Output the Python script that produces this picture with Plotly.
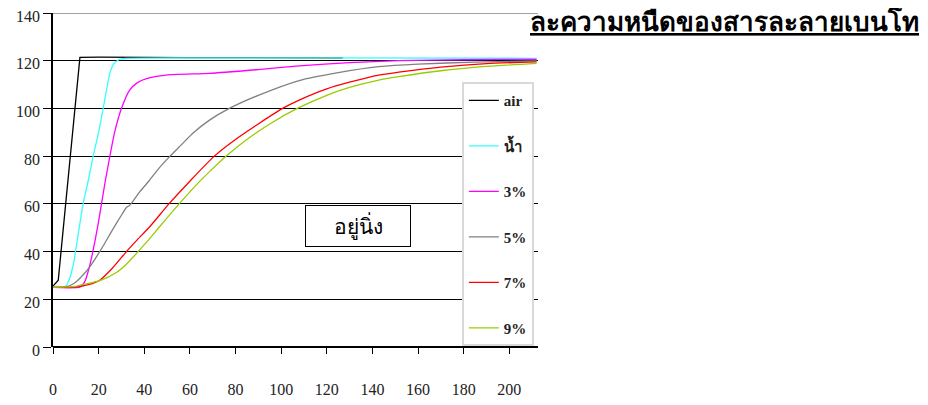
import plotly.graph_objects as go

# ---- data ----
air_x = [0, 1, 2.3, 11.8, 20, 60, 100, 127]
air_y = [25.5, 26.8, 28, 121.4, 121.5, 121.3, 121.2, 121.2]

water_x = [0, 4, 5.5, 7, 9, 11, 13.2, 15.5, 17.6, 20, 22, 23.5, 24.9, 26.5, 29, 32, 60, 120, 212]
water_y = [25, 25, 25.5, 28, 35, 47, 60, 70, 80, 90, 100, 108, 114.7, 118.5, 120.5, 121, 121.2, 121.2, 121]

p3_x = [0, 12, 14, 15.8, 17.6, 19.5, 21.3, 23, 24.9, 27, 30, 33.6, 37, 41, 49.6, 68.6, 90, 108, 130, 151.5, 180, 212]
p3_y = [25, 25.2, 27.5, 33, 40.6, 50, 60.2, 70, 79.8, 90, 100, 107.7, 110.8, 112.5, 114, 114.7, 116.3, 117.8, 119.2, 120, 120.4, 120.6]

p5_x = [0, 6, 9, 12, 16.2, 19.5, 22.7, 26, 29.5, 32.2, 33.4, 34.6, 38, 42.4, 46.5, 51.1, 56, 61.3, 68.6, 77.3, 90, 107.9, 125, 142.8, 160, 185, 212]
p5_y = [25, 25.3, 26.5, 29, 33.7, 38.5, 43.5, 49, 54.5, 58.5, 59.2, 60.5, 65, 70, 75, 79.8, 84.5, 89.6, 95.1, 100, 105.5, 111.7, 115, 117.5, 118.6, 119.4, 119.9]

p7_x = [0, 10, 15, 20.5, 26, 32.2, 37, 42.4, 51, 60, 70.7, 80, 90, 100.6, 107.9, 120, 130, 142.8, 151.5, 170, 190, 212]
p7_y = [25, 25.2, 26, 28, 33, 40, 45, 50.4, 60.2, 69.5, 80, 87, 93.5, 100, 103.5, 108.2, 111, 114, 115.2, 117.3, 118.8, 119.5]

p9_x = [0, 10, 13.2, 20.5, 27.8, 32.5, 37.3, 42, 46.7, 55.5, 64.2, 68.6, 75.8, 85, 95, 107.1, 120, 130, 142.8, 151.5, 170, 190, 212]
p9_y = [25, 25.4, 26.2, 27.8, 31.2, 35, 40, 45, 50.4, 60.2, 69.3, 73.5, 80, 87, 93.5, 100, 105.5, 108.8, 111.9, 113.3, 115.8, 117.6, 118.9]

series_names = ["air", "น้ำ", "3%", "5%", "7%", "9%"]
series_x = [air_x, water_x, p3_x, p5_x, p7_x, p9_x]
series_y = [air_y, water_y, p3_y, p5_y, p7_y, p9_y]
series_colors = ["#000000", "#33ffff", "#ff00ff", "#808080", "#ff0000", "#99cc00"]

x_ticks = [0, 20, 40, 60, 80, 100, 120, 140, 160, 180, 200]
y_ticks = [0, 20, 40, 60, 80, 100, 120, 140]

title_text = "ละความหนืดของสารละลายเบนโท"
box_text = "อยู่นิ่ง"

fig = go.Figure()
for i, (n, xs, ys, c) in enumerate(zip(series_names, series_x, series_y, series_colors)):
    fig.add_trace(go.Scatter(
        x=xs, y=ys, name=n, mode="lines", legendgroup=f"g{i}",
        line=dict(color=c, width=1.3, shape="linear" if i == 0 else "spline", smoothing=0.6),
    ))

serif = "Times New Roman"

fig.update_layout(
    width=912, height=389,
    margin=dict(l=45, r=382, t=5, b=50, autoexpand=False),
    paper_bgcolor="white", plot_bgcolor="white",
    showlegend=True,
    legend=dict(
        x=0.843, y=0.793, xanchor="left", yanchor="top",
        bordercolor="#d9d9d9", borderwidth=2, bgcolor="white",
        font=dict(family=serif, size=15, color="#222", weight="bold"),
        tracegroupgap=23, itemwidth=30,
    ),
    xaxis=dict(
        range=[0, 212.6], tickvals=x_ticks, showgrid=False, zeroline=False, automargin=False,
        showline=False, ticks="outside", ticklen=6, tickcolor="black", tickwidth=1,
        tickfont=dict(family=serif, size=16, color="#222"), ticklabelstandoff=22,
    ),
    yaxis=dict(
        range=[0, 140], tickvals=y_ticks, showgrid=True, gridcolor="black", gridwidth=1,
        zeroline=True, zerolinecolor="black", zerolinewidth=1.5, automargin=False,
        showline=True, linecolor="black", linewidth=1.5, ticklabeloverflow="allow",
        ticks="outside", ticklen=8, tickcolor="black", tickwidth=1, ticklabelshift=3,
        tickfont=dict(family=serif, size=16, color="#222"),
    ),
    annotations=[
        dict(x=133.9, y=50.7, xref="x", yref="y", text=box_text, showarrow=False,
             font=dict(family="sans-serif", size=21, color="black", weight="normal"),
             bordercolor="black", borderwidth=1, bgcolor="white", width=102, height=38),
        dict(x=1.79, y=0.975, xref="paper", yref="paper", xanchor="right", yanchor="middle",
             text=f"<b><u>{title_text}</u></b>", showarrow=False,
             font=dict(family="sans-serif", size=26, color="black")),
    ],
    shapes=[
        dict(type="line", xref="paper", yref="y", x0=0, x1=1, y0=140, y1=140,
             line=dict(color="#808080", width=1.5), layer="above"),
    ],
)

fig.write_html("out.html")
